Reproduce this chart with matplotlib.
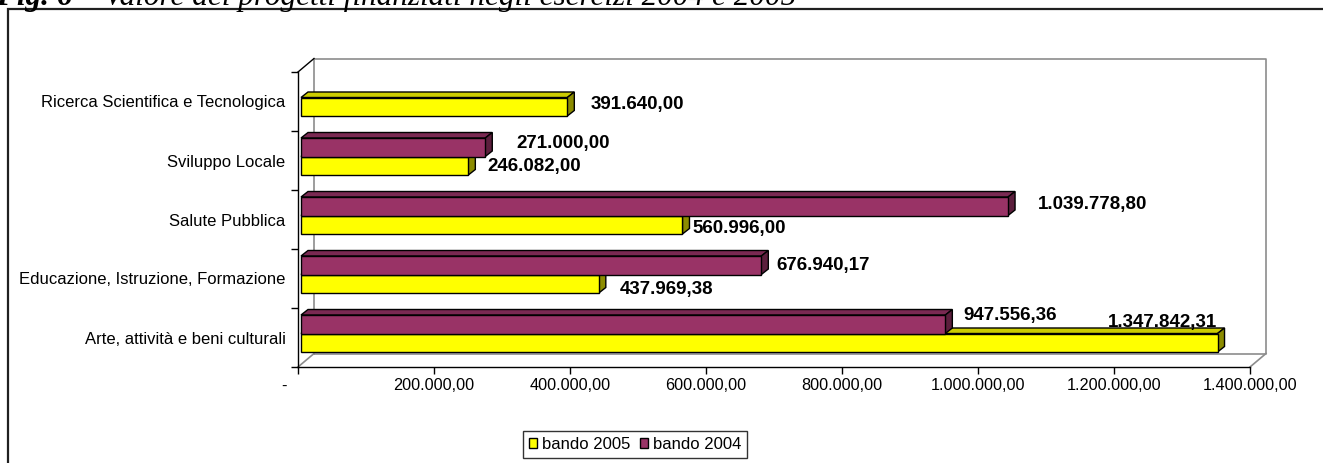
import matplotlib
matplotlib.use('Agg')
import matplotlib.pyplot as plt
from matplotlib.patches import Polygon, Patch, Rectangle

# Values of the funded projects (euro), one entry per sector, bottom to top
categories = ['Arte, attività e beni culturali',
              'Educazione, Istruzione, Formazione',
              'Salute Pubblica',
              'Sviluppo Locale',
              'Ricerca Scientifica e Tecnologica']
bando_2005 = [1347842.31, 437969.38, 560996.00, 246082.00, 391640.00]
bando_2004 = [947556.36, 676940.17, 1039778.80, 271000.00, 0.0]
xticks = [0, 200000, 400000, 600000, 800000, 1000000, 1200000, 1400000]

# label offsets in pixels from the end of each bar (x right, y up)
off_2005 = [(-110, 20), (21, -6), (10, -4), (19, -1), (23, 2)]
off_2004 = [(18, 9), (15, 0), (30, 2), (31, 4), (0, 0)]

YELLOW = ('#FFFF00', '#CCCC00', '#8C8C00')
MAROON = ('#993366', '#7A2952', '#5C1F3D')

W, H = 1323, 463
fig = plt.figure(figsize=(W / 100, H / 100), dpi=100)
fig.patch.set_facecolor('white')

plt.rcParams['font.family'] = ['Liberation Sans', 'DejaVu Sans']


def fmt(v):
    s = f'{v:,.2f}'
    return s.replace(',', 'X').replace('.', ',').replace('X', '.')


# outer frame, running off the right and bottom edges
fig.add_artist(Rectangle((8 / W, -0.1), 1.2, 1 - 9 / H + 0.1, transform=fig.transFigure,
                         fill=False, ec='#202020', lw=1.6))

# caption, cut by the top edge
t1 = fig.text(-4 / W, 1 - 5 / H, 'Fig. 6 – ', family='Liberation Serif', style='italic',
              weight='bold', fontsize=22.5, va='baseline', ha='left')
fig.add_artist(matplotlib.text.Annotation(
    'Valore dei progetti finanziati negli esercizi 2004 e 2005', xy=(1, 0), xycoords=t1,
    va='bottom', ha='left', family='Liberation Serif', style='italic', fontsize=22.5))

x0, x1, y0, y1 = 298, 1250, 72, 367
ax = fig.add_axes([x0 / W, 1 - y1 / H, (x1 - x0) / W, (y1 - y0) / H])
ax.set_xlim(0, 1400000)
ax.set_ylim(-0.5, 4.5)
ax.patch.set_alpha(0)

# pixel -> data conversion
sx = 1400000 / (x1 - x0)
sy = 5 / (y1 - y0)

# back wall and floor
bdx, bdy = 16 * sx, 13.5 * sy
grey = '#8C8C8C'
ax.plot([bdx, bdx, 1400000 + bdx, 1400000 + bdx, bdx],
        [-0.5 + bdy, 4.5 + bdy, 4.5 + bdy, -0.5 + bdy, -0.5 + bdy],
        color=grey, lw=1.2, clip_on=False, zorder=1)
ax.plot([0, bdx], [-0.5, -0.5 + bdy], color=grey, lw=1.2, clip_on=False, zorder=1)
ax.plot([1400000, 1400000 + bdx], [-0.5, -0.5 + bdy], color=grey, lw=1.2, clip_on=False, zorder=1)
ax.plot([0, bdx], [4.5, 4.5 + bdy], color='black', lw=1.0, clip_on=False, zorder=1)

# bars
bx, by = 3 * sx, 4 * sy
bh = 18.5 * sy
ddx, ddy = 7 * sx, 5.5 * sy


def bar3d(v, ybot, colors):
    front, top, side = colors
    xa, xb = bx, v + bx
    ya, yb = ybot, ybot + bh
    kw = dict(ec='black', lw=1.0, clip_on=False, zorder=3, joinstyle='miter')
    ax.add_patch(Polygon([(xa, yb), (xb, yb), (xb + ddx, yb + ddy), (xa + ddx, yb + ddy)],
                         fc=top, **kw))
    ax.add_patch(Polygon([(xb, ya), (xb + ddx, ya + ddy), (xb + ddx, yb + ddy), (xb, yb)],
                         fc=side, **kw))
    ax.add_patch(Polygon([(xa, ya), (xb, ya), (xb, yb), (xa, yb)], fc=front, **kw))


for i in range(len(categories)):
    c = i + by
    if bando_2005[i] > 0:
        bar3d(bando_2005[i], c - bh, YELLOW)
    if bando_2004[i] > 0:
        bar3d(bando_2004[i], c, MAROON)

for i in range(len(categories)):
    c = i + by
    for vals, offs, yc in ((bando_2005, off_2005, c - bh / 2), (bando_2004, off_2004, c + bh / 2)):
        v = vals[i]
        if v <= 0:
            continue
        ax.annotate(fmt(v), xy=(v + bx, yc), xytext=offs[i], textcoords='offset pixels',
                    ha='left', va='center', fontsize=13.5, fontweight='bold',
                    annotation_clip=False, zorder=5)

# axes
for s in ('top', 'right'):
    ax.spines[s].set_visible(False)
ax.spines['left'].set_linewidth(1.0)
ax.spines['bottom'].set_linewidth(1.0)

ax.set_xticks(xticks)
ax.set_xticklabels(['-      '] + [fmt(t) for t in xticks[1:]])
ax.tick_params(axis='x', length=5, width=1, pad=3, labelsize=11.7)

ax.set_yticks(range(len(categories)))
ax.set_yticklabels(categories)
ax.set_yticks([i - 0.5 for i in range(len(categories) + 1)], minor=True)
ax.tick_params(axis='y', which='major', length=0, pad=9, labelsize=12)
ax.tick_params(axis='y', which='minor', length=5, width=1)

handles = [Patch(fc=YELLOW[0], ec='black', lw=1), Patch(fc=MAROON[0], ec='black', lw=1)]
leg = fig.legend(handles, ['bando 2005', 'bando 2004'], ncol=2, loc='upper left',
                 bbox_to_anchor=(523 / W, 1 - 431 / H), frameon=True, fancybox=False,
                 edgecolor='black', fontsize=12, handlelength=0.5, handleheight=0.5,
                 handletextpad=0.3, columnspacing=0.55, borderpad=0.35, borderaxespad=0)
leg.get_frame().set_linewidth(1.0)

fig.savefig('out.png', dpi=100)
